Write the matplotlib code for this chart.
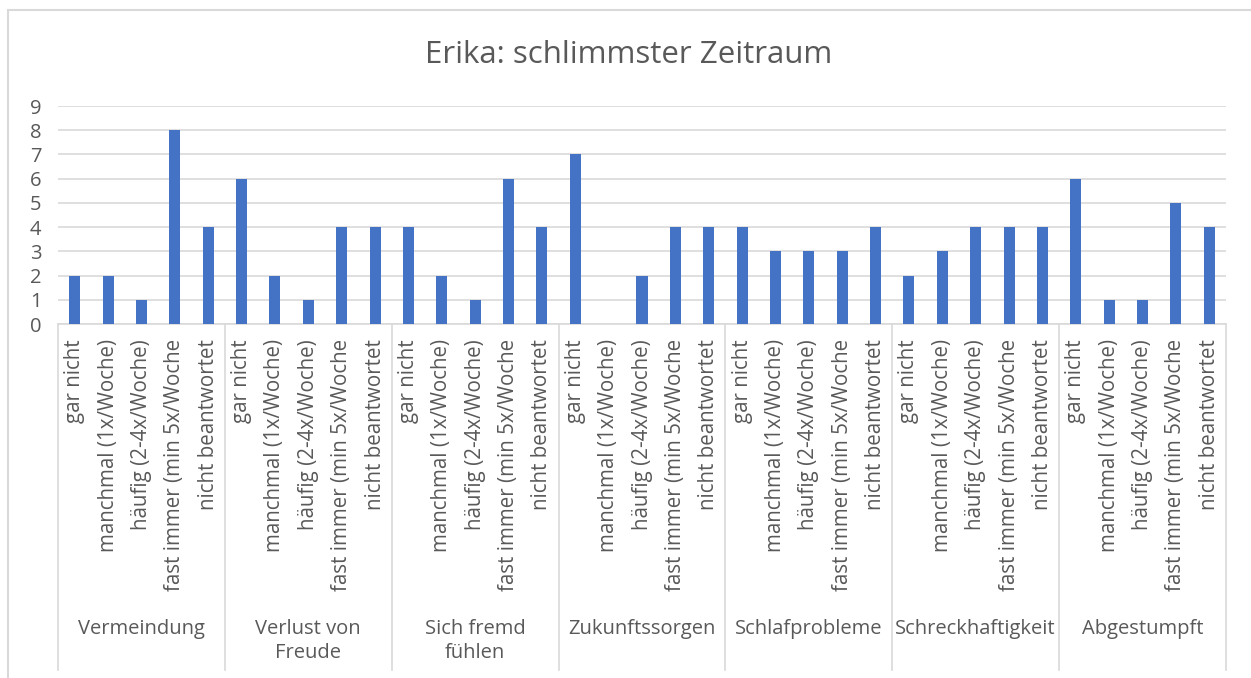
import numpy as np
import matplotlib
matplotlib.use("Agg")
import matplotlib.pyplot as plt
from matplotlib.patches import Rectangle

# Daten
groups = ["Vermeindung", "Verlust von\nFreude", "Sich fremd\nfühlen", "Zukunftssorgen",
          "Schlafprobleme", "Schreckhaftigkeit", "Abgestumpft"]
answers = ["gar nicht", "manchmal (1x/Woche)", "häufig (2-4x/Woche)",
           "fast immer (min 5x/Woche", "nicht beantwortet"]
values = [
    [2, 2, 1, 8, 4],
    [6, 2, 1, 4, 4],
    [4, 2, 1, 6, 4],
    [7, 0, 2, 4, 4],
    [4, 3, 3, 3, 4],
    [2, 3, 4, 4, 4],
    [6, 1, 1, 5, 4],
]
yticks = list(range(0, 10))

plt.rcParams['font.family'] = ['Open Sans', 'DejaVu Sans']
text_col = '#595959'
line_col = '#d9d9d9'

W, H = 1251, 678
fig = plt.figure(figsize=(W / 100, H / 100), dpi=100)

# äußerer Rahmen (nur oben und links sichtbar)
fig.patches.append(Rectangle((8 / W, -0.1), 1.2, 1 - 10 / H + 0.1, transform=fig.transFigure,
                             fill=False, edgecolor=line_col, linewidth=1.5))

ax = fig.add_axes([58 / W, 1 - 324 / H, (1226 - 58) / W, (324 - 106) / H])

n_ans = len(answers)
flat = [v for g in values for v in g]
x = np.arange(len(flat))
ax.bar(x, flat, width=0.33, color='#4472c4', zorder=3)

ax.set_xlim(-0.5, len(flat) - 0.5)
ax.set_ylim(0, 9)
ax.set_yticks(yticks)
ax.tick_params(axis='y', length=0, labelsize=14.5, labelcolor=text_col, pad=12)
ax.yaxis.grid(True, color=line_col, linewidth=1.2, zorder=0)
for s in ['top', 'right', 'left']:
    ax.spines[s].set_visible(False)
ax.spines['bottom'].set_color(line_col)
ax.spines['bottom'].set_linewidth(1.2)
ax.set_xticks([])

trans = ax.get_xaxis_transform()
px = 1 / (324 - 106)
# Kategorie-Beschriftungen
for i in range(len(flat)):
    ax.text(x[i], -15 * px, answers[i % n_ans], rotation=90, ha='center', va='top',
            fontsize=14.8, color=text_col, transform=trans)

# Gruppen-Trennlinien und Gruppennamen
for gi in range(len(groups) + 1):
    xs = gi * n_ans - 0.5
    ax.plot([xs, xs], [0, -(670 - 324) * px], color=line_col, linewidth=1.2,
            transform=trans, clip_on=False)
for gi, g in enumerate(groups):
    ax.text(gi * n_ans + 2, -(619 - 324) * px, g, ha='center', va='top', fontsize=14.5,
            color=text_col, transform=trans, linespacing=1.3)

fig.text(629 / W, 1 - 55 / H, "Erika: schlimmster Zeitraum", ha='center', va='center',
         fontsize=22.5, color=text_col)

fig.savefig("out.png", dpi=100)
